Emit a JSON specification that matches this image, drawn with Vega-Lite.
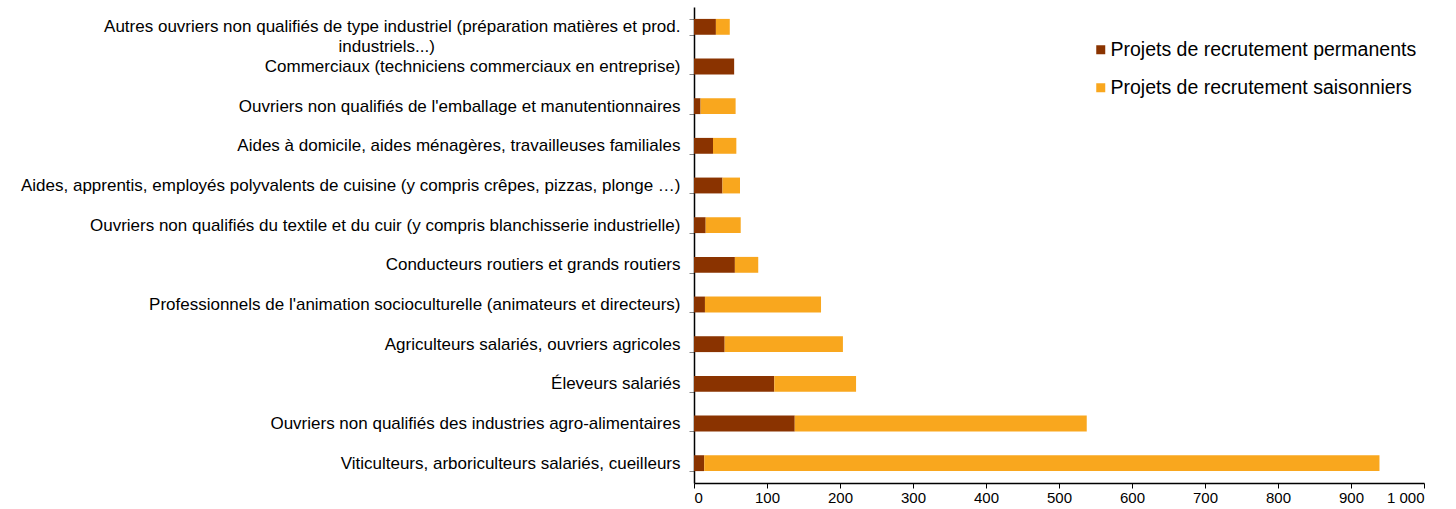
{
  "$schema": "https://vega.github.io/schema/vega-lite/v6.json",
  "width": 730,
  "height": 476,
  "autosize": "none",
  "padding": {"left": 694, "top": 7, "right": 32, "bottom": 26},
  "config": {"view": {"stroke": null}, "font": "Liberation Sans"},
  "data": {"values": [
    {"metier": "Autres ouvriers non qualifiés de type industriel (préparation matières et prod. industriels...)", "type": "Projets de recrutement permanents", "ord": 1, "valeur": 30},
    {"metier": "Autres ouvriers non qualifiés de type industriel (préparation matières et prod. industriels...)", "type": "Projets de recrutement saisonniers", "ord": 2, "valeur": 19},
    {"metier": "Commerciaux (techniciens commerciaux en entreprise)", "type": "Projets de recrutement permanents", "ord": 1, "valeur": 55},
    {"metier": "Commerciaux (techniciens commerciaux en entreprise)", "type": "Projets de recrutement saisonniers", "ord": 2, "valeur": 0},
    {"metier": "Ouvriers non qualifiés de l'emballage et manutentionnaires", "type": "Projets de recrutement permanents", "ord": 1, "valeur": 9},
    {"metier": "Ouvriers non qualifiés de l'emballage et manutentionnaires", "type": "Projets de recrutement saisonniers", "ord": 2, "valeur": 48},
    {"metier": "Aides à domicile, aides ménagères, travailleuses familiales", "type": "Projets de recrutement permanents", "ord": 1, "valeur": 26},
    {"metier": "Aides à domicile, aides ménagères, travailleuses familiales", "type": "Projets de recrutement saisonniers", "ord": 2, "valeur": 32},
    {"metier": "Aides, apprentis, employés polyvalents de cuisine (y compris crêpes, pizzas, plonge …)", "type": "Projets de recrutement permanents", "ord": 1, "valeur": 39},
    {"metier": "Aides, apprentis, employés polyvalents de cuisine (y compris crêpes, pizzas, plonge …)", "type": "Projets de recrutement saisonniers", "ord": 2, "valeur": 24},
    {"metier": "Ouvriers non qualifiés du textile et du cuir (y compris blanchisserie industrielle)", "type": "Projets de recrutement permanents", "ord": 1, "valeur": 16},
    {"metier": "Ouvriers non qualifiés du textile et du cuir (y compris blanchisserie industrielle)", "type": "Projets de recrutement saisonniers", "ord": 2, "valeur": 48},
    {"metier": "Conducteurs routiers et grands routiers", "type": "Projets de recrutement permanents", "ord": 1, "valeur": 56},
    {"metier": "Conducteurs routiers et grands routiers", "type": "Projets de recrutement saisonniers", "ord": 2, "valeur": 32},
    {"metier": "Professionnels de l'animation socioculturelle (animateurs et directeurs)", "type": "Projets de recrutement permanents", "ord": 1, "valeur": 15},
    {"metier": "Professionnels de l'animation socioculturelle (animateurs et directeurs)", "type": "Projets de recrutement saisonniers", "ord": 2, "valeur": 159},
    {"metier": "Agriculteurs salariés, ouvriers agricoles", "type": "Projets de recrutement permanents", "ord": 1, "valeur": 42},
    {"metier": "Agriculteurs salariés, ouvriers agricoles", "type": "Projets de recrutement saisonniers", "ord": 2, "valeur": 162},
    {"metier": "Éleveurs salariés", "type": "Projets de recrutement permanents", "ord": 1, "valeur": 110},
    {"metier": "Éleveurs salariés", "type": "Projets de recrutement saisonniers", "ord": 2, "valeur": 112},
    {"metier": "Ouvriers non qualifiés des industries agro-alimentaires", "type": "Projets de recrutement permanents", "ord": 1, "valeur": 138},
    {"metier": "Ouvriers non qualifiés des industries agro-alimentaires", "type": "Projets de recrutement saisonniers", "ord": 2, "valeur": 400},
    {"metier": "Viticulteurs, arboriculteurs salariés, cueilleurs", "type": "Projets de recrutement permanents", "ord": 1, "valeur": 14},
    {"metier": "Viticulteurs, arboriculteurs salariés, cueilleurs", "type": "Projets de recrutement saisonniers", "ord": 2, "valeur": 925}
  ]},
  "mark": {"type": "bar"},
  "encoding": {
    "y": {
      "field": "metier", "type": "nominal", "sort": null, "title": null,
      "scale": {"paddingInner": 0.6, "paddingOuter": 0.3},
      "axis": {
        "tickBand": "extent", "tickSize": 5, "tickColor": "#888888",
        "domainColor": "#000000", "domainWidth": 1.5,
        "labelFontSize": 17, "labelColor": "#000000", "labelPadding": 9,
        "labelLimit": 700, "labelLineHeight": 20,
        "labelExpr": "indexof(datum.label, 'Autres ouvriers') == 0 ? ['Autres ouvriers non qualifiés de type industriel (préparation matières  et  prod.', 'industriels...)\u00a0\u00a0\u00a0\u00a0\u00a0\u00a0\u00a0\u00a0\u00a0\u00a0\u00a0\u00a0\u00a0\u00a0\u00a0\u00a0\u00a0\u00a0\u00a0\u00a0\u00a0\u00a0\u00a0\u00a0\u00a0\u00a0\u00a0\u00a0\u00a0\u00a0\u00a0\u00a0\u00a0\u00a0\u00a0\u00a0\u00a0\u00a0\u00a0\u00a0\u00a0\u00a0\u00a0\u00a0\u00a0\u00a0\u00a0\u00a0\u00a0\u00a0\u00a0\u00a0\u200b'] : datum.label"
      }
    },
    "x": {
      "field": "valeur", "type": "quantitative", "stack": "zero", "title": null,
      "scale": {"domain": [0, 1000]},
      "axis": {
        "values": [0, 100, 200, 300, 400, 500, 600, 700, 800, 900, 1000],
        "grid": false, "tickSize": 5, "tickColor": "#000000",
        "domainColor": "#000000", "domainWidth": 1.5,
        "labelFontSize": 15, "labelColor": "#000000", "labelPadding": 2,
        "labelExpr": "datum.value == 1000 ? '1 000' : datum.label"
      }
    },
    "color": {
      "field": "type", "type": "nominal",
      "scale": {"domain": ["Projets de recrutement permanents", "Projets de recrutement saisonniers"], "range": ["#8A3300", "#F9A71E"]},
      "legend": {
        "title": null, "orient": "none", "legendX": 397, "legendY": 33,
        "symbolType": "square", "symbolSize": 81, "symbolStrokeWidth": 0,
        "labelFontSize": 19.5, "labelColor": "#000000", "labelOffset": 0,
        "rowPadding": 17, "labelLimit": 400
      }
    },
    "order": {"field": "ord"}
  }
}
